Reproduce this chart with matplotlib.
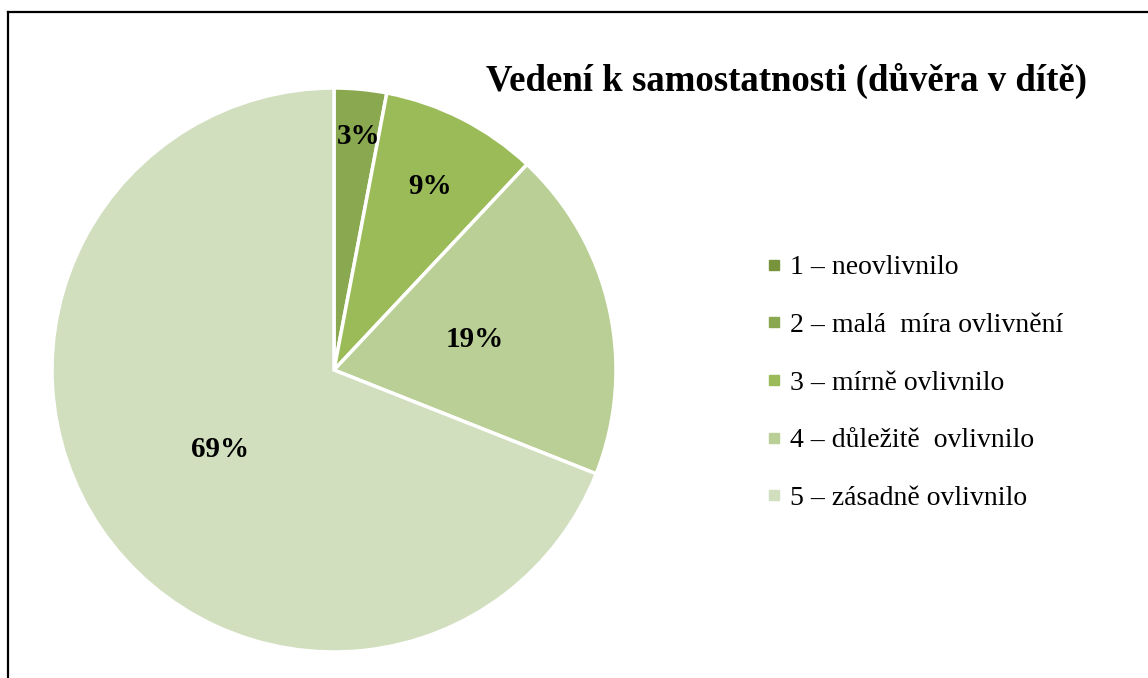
import numpy as np
import matplotlib
matplotlib.use("Agg")
from matplotlib import pyplot as plt
from matplotlib.lines import Line2D

plt.rcParams['font.family'] = ['Liberation Serif', 'DejaVu Serif']

title = "Vedení k samostatnosti (důvěra v dítě)"
categories = ["1 – neovlivnilo", "2 – malá  míra ovlivnění", "3 – mírně ovlivnilo",
              "4 – důležitě  ovlivnilo", "5 – zásadně ovlivnilo"]
values = [0, 3, 9, 19, 69]
colors = ["#77933c", "#8aa84f", "#9bbb59", "#bacf95", "#d1dfbf"]
label_dist = [0.0, 0.83, 0.73, 0.5, 0.5]

W, H = 1148, 678
fig = plt.figure(figsize=(W / 100, H / 100), dpi=100)

cx, cy, r = 334, 370, 282
ax = fig.add_axes([(cx - r) / W, (H - cy - r) / H, 2 * r / W, 2 * r / H])
wedges, _ = ax.pie(values, colors=colors, startangle=90, counterclock=False,
                   wedgeprops=dict(edgecolor="white", linewidth=2.5))
ax.set_xlim(-1, 1)
ax.set_ylim(-1, 1)
ax.set_aspect("equal")

for w, v, d in zip(wedges, values, label_dist):
    if v == 0:
        continue
    ang = np.deg2rad((w.theta1 + w.theta2) / 2)
    ax.text(d * np.cos(ang) + 0.01, d * np.sin(ang), "%d%%" % v, ha="center", va="center",
            fontsize=21, fontweight="bold")

fig.text(786 / W, 1 - 81 / H, title, ha="center", va="center",
         fontsize=26.5, fontweight="bold")

handles = [Line2D([], [], marker="s", linestyle="none", markersize=7,
                  markerfacecolor=c, markeredgecolor=c) for c in colors]
fig.legend(handles, categories, loc="center left", bbox_to_anchor=(765.5 / W, 1 - 383 / H),
           frameon=False, fontsize=20, handlelength=0.6, handletextpad=0.3,
           labelspacing=1.16, borderaxespad=0, borderpad=0)

# chart border (only top and left edges visible)
fig.add_artist(Line2D([8 / W, 8 / W], [0, 1 - 12 / H], color="black", lw=1.6,
                      transform=fig.transFigure))
fig.add_artist(Line2D([8 / W, 1], [1 - 12 / H, 1 - 12 / H], color="black", lw=1.6,
                      transform=fig.transFigure))

fig.savefig("out.png", dpi=100)
